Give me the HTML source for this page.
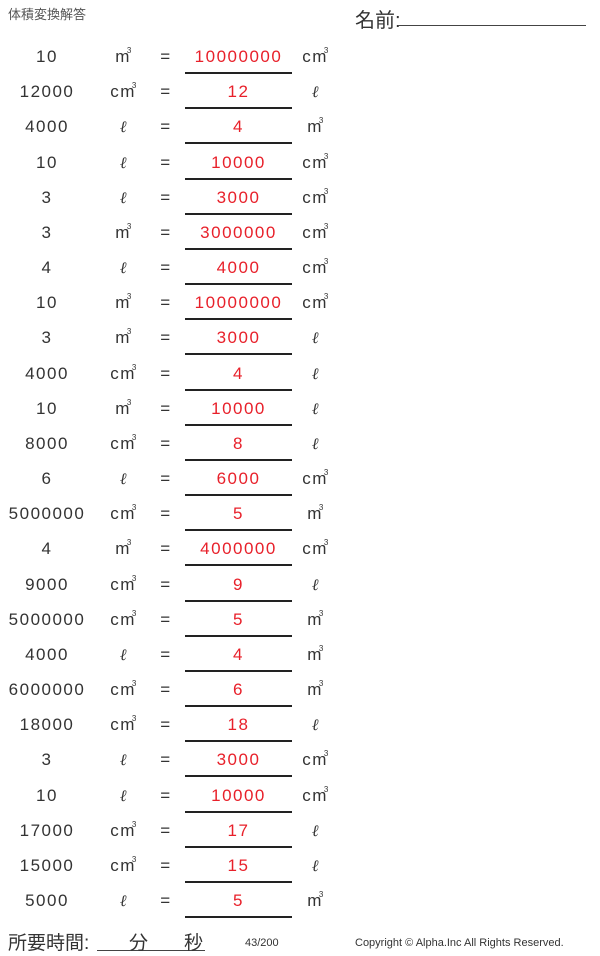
<!DOCTYPE html><html><head><meta charset="utf-8"><style>
body{margin:0;width:600px;height:956px;background:#fff;position:relative;font-family:"Liberation Sans","Noto Sans CJK JP",sans-serif;color:#333;overflow:hidden}
.a{position:absolute;white-space:nowrap}
.r{position:absolute;left:0;width:600px;height:24px;font-size:17px;line-height:24px;letter-spacing:1.5px}
.r span{position:absolute;text-align:center;height:24px;line-height:24px}
.n{left:2px;width:90px}.u{left:94px;width:60px}.e{left:152px;width:28px}.v{left:185px;width:107px;color:#e8202a}.w{left:296px;width:40px}
.s{font-size:8px;position:relative;top:-9px;margin-left:-4px;line-height:0}
.l{position:absolute;left:185px;width:107px;height:2px;background:#222}
</style></head><body>
<div class="a" style="left:8px;top:4px;font-size:13px;color:#555">体積変換解答</div>
<div class="a" style="left:355px;top:4px;font-size:20px">名前:</div>
<div class="a" style="left:398px;top:25px;width:188px;height:1px;background:#444"></div>
<div id="rows"></div>
<script>
var d=[["10","m","10000000","c"],["12000","c","12","l"],["4000","l","4","m"],["10","l","10000","c"],["3","l","3000","c"],["3","m","3000000","c"],["4","l","4000","c"],["10","m","10000000","c"],["3","m","3000","l"],["4000","c","4","l"],["10","m","10000","l"],["8000","c","8","l"],["6","l","6000","c"],["5000000","c","5","m"],["4","m","4000000","c"],["9000","c","9","l"],["5000000","c","5","m"],["4000","l","4","m"],["6000000","c","6","m"],["18000","c","18","l"],["3","l","3000","c"],["10","l","10000","c"],["17000","c","17","l"],["15000","c","15","l"],["5000","l","5","m"]];
function u(x){return x=="m"?"m<span class='s' style='position:relative'>3</span>":x=="c"?"cm<span class='s' style='position:relative'>3</span>":"<i style='font-family:DejaVu Serif,serif;font-size:16px'>ℓ</i>";}
var h="";d.forEach(function(r,i){var y=57+35.17*i;
h+='<div class="r" style="top:'+(y-12)+'px"><span class="n">'+r[0]+'</span><span class="u">'+u(r[1])+'</span><span class="e">=</span><span class="v">'+r[2]+'</span><span class="w">'+u(r[3])+'</span></div>';
h+='<div class="l" style="top:'+(y+15)+'px"></div>';});
document.getElementById("rows").innerHTML=h;
</script>
<div class="a" style="left:8px;top:928px;font-size:19px">所要時間:</div>
<div class="a" style="left:97px;top:950px;width:108px;height:1px;background:#444"></div>
<div class="a" style="left:129px;top:928px;font-size:19px">分</div>
<div class="a" style="left:184px;top:928px;font-size:19px">秒</div>
<div class="a" style="left:245px;top:937px;font-size:11px">43/200</div>
<div class="a" style="left:355px;top:937px;font-size:11px">Copyright © Alpha.Inc All Rights Reserved.</div>
</body></html>
